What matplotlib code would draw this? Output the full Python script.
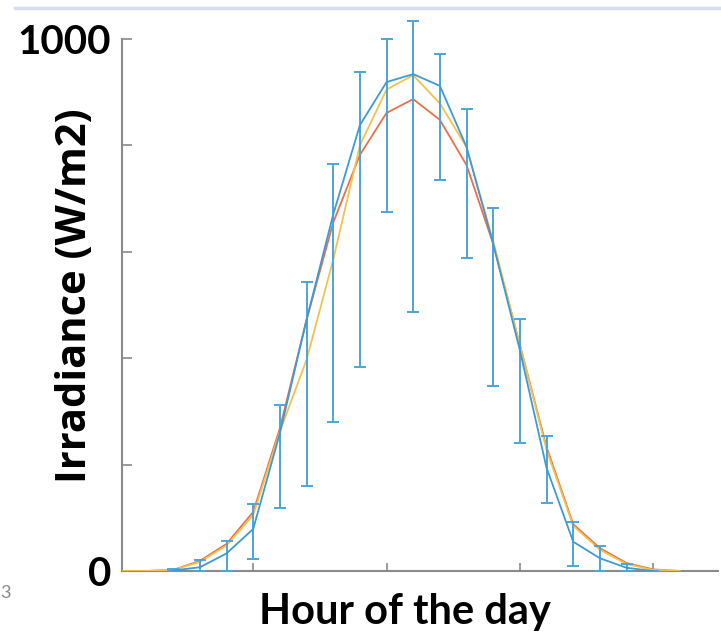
import matplotlib
matplotlib.use("Agg")
import matplotlib.pyplot as plt
from matplotlib.lines import Line2D
import numpy as np

plt.rcParams['font.family'] = ['Lato', 'DejaVu Sans']

# Blue series (mean with asymmetric error bars), hours 2..20
hours_blue = [2, 3, 4, 5, 6, 7, 8, 9, 10, 11, 12, 13, 14, 15, 16, 17, 18, 19, 20]
blue_vals = [1, 7, 33, 79, 259, 472, 670, 838, 919, 934, 912, 797, 615, 415, 194, 55, 24, 6, 0]
blue_low = [0, 0, 0, 22, 118, 160, 280, 383, 675, 487, 735, 588, 348, 240, 128, 9, 0, 0, 0]
blue_high = [4, 21, 56, 126, 312, 543, 765, 938, 1000, 1034, 972, 868, 682, 473, 254, 92, 47, 13, 0]

# Red and yellow series, hours 0..21
hours_ry = list(range(0, 22))
red_vals = [0, 0, 2, 19, 51, 111, 268, 472, 655, 782, 861, 887, 848, 763, 615, 425, 233, 88, 43, 15, 3, 0]
yellow_vals = [0, 0, 2, 17, 48, 105, 262, 397, 585, 800, 905, 932, 879, 797, 620, 425, 228, 85, 40, 13, 2, 0]

x_ticks = [5, 10, 15, 20]
y_ticks = [0, 200, 400, 600, 800, 1000]
y_ticklabels = ['0', '', '', '', '', '1000']

c_blue = '#3d9ad6'
c_red = '#e8704a'
c_yellow = '#f2c24e'
c_axis = '#8a8a8a'

fig = plt.figure(figsize=(7.21, 6.38), dpi=100)
ax = fig.add_axes([122/721, 1-571/638, (718-122)/721, (571-39)/638])

ax.plot(hours_ry, red_vals, color=c_red, lw=1.3, zorder=3)
ax.plot(hours_ry, yellow_vals, color=c_yellow, lw=1.3, zorder=3)

bv = np.array(blue_vals)
yerr = np.vstack([bv - np.array(blue_low), np.array(blue_high) - bv])
ax.errorbar(hours_blue, blue_vals, yerr=yerr, color=c_blue, ecolor='#4aa6dc',
            lw=1.3, elinewidth=1.4, capsize=4, capthick=1.4, zorder=4, clip_on=False)

ax.set_xlim(0.08, 22.43)
ax.set_ylim(0, 1000)
ax.set_xticks(x_ticks)
ax.set_xticklabels([])
ax.set_yticks(y_ticks)
ax.set_yticklabels(y_ticklabels, fontsize=29, fontweight='bold')
ax.tick_params(axis='both', direction='in', color=c_axis, width=1.2)
ax.tick_params(axis='y', length=7, pad=8)
ax.tick_params(axis='x', length=6)
for s in ['top', 'right']:
    ax.spines[s].set_visible(False)
for s in ['left', 'bottom']:
    ax.spines[s].set_color(c_axis)
    ax.spines[s].set_linewidth(1.5)

ax.set_xlabel('Hour of the day', fontsize=30, fontweight='bold')
ax.xaxis.set_label_coords((405 - 122) / 596, -(612 - 571) / 532)
ax.xaxis.label.set_va('center')
ax.set_ylabel('Irradiance (W/m2)', fontsize=30, fontweight='bold',
              family=['Open Sans', 'DejaVu Sans'])
ax.yaxis.set_label_coords((76 - 122) / 596, (571 - 296) / 532)
ax.yaxis.label.set_va('center')

# top light-blue border of the screenshot
fig.add_artist(Line2D([15/721, 1.0], [1-8/638, 1-8/638], transform=fig.transFigure,
                      color='#d4def0', lw=2.5))
fig.text(0.5/721, 1-593/638, '3', fontsize=13, color='#888888', ha='left', va='center')

fig.savefig('out.png', dpi=100)
